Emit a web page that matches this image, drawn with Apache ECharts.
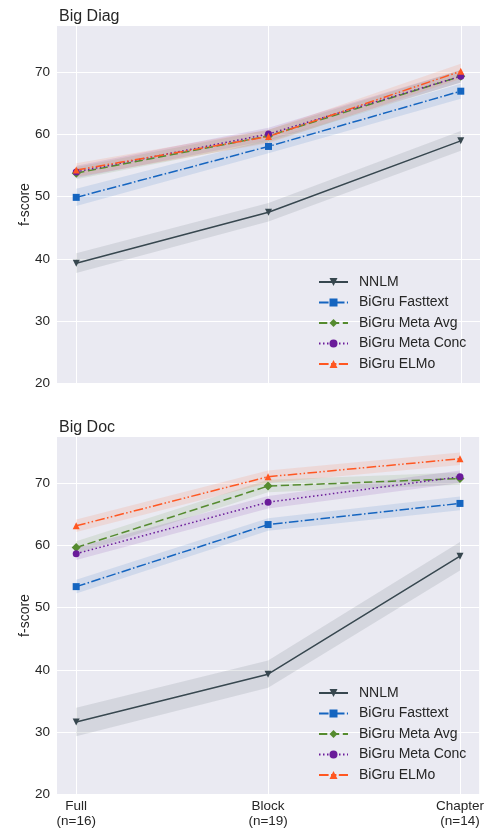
<!DOCTYPE html>
<html><head><meta charset="utf-8">
<script src="https://cdn.jsdelivr.net/npm/echarts@6/dist/echarts.min.js"></script>
<style>html,body{margin:0;padding:0;background:#fff}#c{width:487px;height:832px}</style>
</head><body><div id="c"></div>
<script>
const categories = ['Full\n(n=16)', 'Block\n(n=19)', 'Chapter\n(n=14)'];
const seriesNames = ['NNLM', 'BiGru Fasttext', 'BiGru Meta Avg', 'BiGru Meta Conc', 'BiGru ELMo'];
const panelTitles = ['Big Diag', 'Big Doc'];
const yTicks = [20, 30, 40, 50, 60, 70];

// Big Diag
const diagNNLM = [39.3, 47.5, 59.0];
const diagFasttext = [49.9, 58.1, 67.0];
const diagMetaAvg = [53.8, 59.8, 69.4];
const diagMetaConc = [54.0, 60.1, 69.4];
const diagELMo = [54.3, 59.7, 70.2];
const diagNNLMci = [1.6, 1.5, 1.6];
const diagFasttextci = [1.4, 1.1, 1.2];
const diagMetaAvgci = [1.0, 1.0, 1.0];
const diagMetaConcci = [1.0, 1.0, 1.0];
const diagELMoci = [1.1, 1.1, 1.2];

// Big Doc
const docNNLM = [31.6, 39.3, 58.3];
const docFasttext = [53.4, 63.4, 66.8];
const docMetaAvg = [59.7, 69.6, 70.8];
const docMetaConc = [58.7, 67.0, 71.1];
const docELMo = [63.2, 71.1, 74.0];
const docNNLMci = [2.3, 2.2, 2.3];
const docFasttextci = [1.1, 1.0, 1.1];
const docMetaAvgci = [1.0, 1.0, 1.0];
const docMetaConcci = [1.0, 1.0, 1.0];
const docELMoci = [1.0, 1.0, 1.0];

const colors = ['#37474f', '#1565c0', '#558b2f', '#6a1b9a', '#ff5722'];
const dashes = ['solid', [9.6, 2.4, 1.5, 2.4], [8.3, 3.6], [1.5, 2.5], [9.6, 2.4, 1.5, 2.4, 1.5, 2.4]];
const symbols = ['path://M-1,-1L1,-1L0,1Z', 'rect', 'diamond', 'circle', 'triangle'];
const symbolSizes = [7, 7, 9, 7, 7];

const panels = [
  {vals: [diagNNLM, diagFasttext, diagMetaAvg, diagMetaConc, diagELMo],
   ci: [diagNNLMci, diagFasttextci, diagMetaAvgci, diagMetaConcci, diagELMoci]},
  {vals: [docNNLM, docFasttext, docMetaAvg, docMetaConc, docELMo],
   ci: [docNNLMci, docFasttextci, docMetaAvgci, docMetaConcci, docELMoci]}
];

const font = 'Liberation Sans, Arial, sans-serif';
const gridTops = [26, 437];
const gridH = 357;

const option = {
  animation: false,
  backgroundColor: '#fff',
  textStyle: {fontFamily: font},
  title: panelTitles.map((t, i) => ({
    text: t, left: 54, top: gridTops[i] - 22,
    textStyle: {fontFamily: font, fontSize: 16, fontWeight: 'normal', color: '#262626'}
  })),
  grid: gridTops.map(t => ({
    left: 57, right: 7, top: t, height: gridH, show: true,
    backgroundColor: '#eaeaf2', borderWidth: 0
  })),
  xAxis: [0, 1].map(i => ({
    type: 'value', gridIndex: i, min: -0.1, max: 2.1,
    axisLine: {show: false},
    axisTick: {show: false, customValues: [0, 1, 2]},
    splitLine: {show: true, lineStyle: {color: '#fff', width: 1}},
    axisLabel: {
      show: i === 1, customValues: [0, 1, 2],
      formatter: v => categories[Math.round(v)] || '',
      color: '#262626', fontSize: 13.5, lineHeight: 15, margin: 5, fontFamily: font
    }
  })),
  yAxis: [0, 1].map(i => ({
    type: 'value', gridIndex: i, min: 20, max: 77.5, interval: 10,
    name: 'f-score', nameLocation: 'middle', nameGap: 25, nameMoveOverlap: false,
    nameTextStyle: {fontSize: 14, color: '#262626', fontFamily: font},
    axisLine: {show: false}, axisTick: {show: false},
    splitLine: {show: true, showMaxLine: false, lineStyle: {color: '#fff', width: 1}},
    axisLabel: {
      formatter: v => (yTicks.indexOf(v) >= 0 ? String(v) : ''),
      showMaxLabel: false, color: '#262626', fontSize: 13.5, margin: 7, fontFamily: font
    }
  })),
  legend: [0, 1].map(i => ({
    data: seriesNames, orient: 'vertical', left: 318, top: gridTops[i] + 244,
    itemWidth: 29, itemHeight: 10, itemGap: 6.5, padding: [5, 5, 5, 0],
    textStyle: {fontSize: 14, color: '#262626', fontFamily: font, padding: [0, 0, 0, 6]},
    backgroundColor: 'transparent'
  })),
  series: []
};

panels.forEach((p, pi) => {
  p.vals.forEach((vals, si) => {
    const ci = p.ci[si];
    const lo = vals.map((v, k) => v - ci[k]);
    const hi = vals.map((v, k) => v + ci[k]);
    option.series.push({
      type: 'custom', name: 'band' + pi + si, xAxisIndex: pi, yAxisIndex: pi,
      silent: true, z: 1,
      data: vals.map((v, k) => [k, lo[k], hi[k]]),
      renderItem: (params, api) => {
        if (params.dataIndex !== 0) return;
        const pts = [];
        for (let k = 0; k < vals.length; k++) pts.push(api.coord([k, hi[k]]));
        for (let k = vals.length - 1; k >= 0; k--) pts.push(api.coord([k, lo[k]]));
        return {type: 'polygon', shape: {points: pts},
                style: {fill: colors[si], opacity: 0.12}};
      }
    });
  });
  p.vals.forEach((vals, si) => {
    option.series.push({
      type: 'line', name: seriesNames[si], xAxisIndex: pi, yAxisIndex: pi, z: 3,
      data: vals.map((v, k) => [k, v]),
      color: colors[si],
      symbol: symbols[si], symbolSize: symbolSizes[si], showSymbol: true,
      lineStyle: {color: colors[si], width: 1.5, type: dashes[si]},
      itemStyle: {color: colors[si], borderWidth: 0}
    });
  });
});

const chart = echarts.init(document.getElementById('c'), null, {renderer: 'canvas'});
chart.setOption(option);
</script></body></html>
